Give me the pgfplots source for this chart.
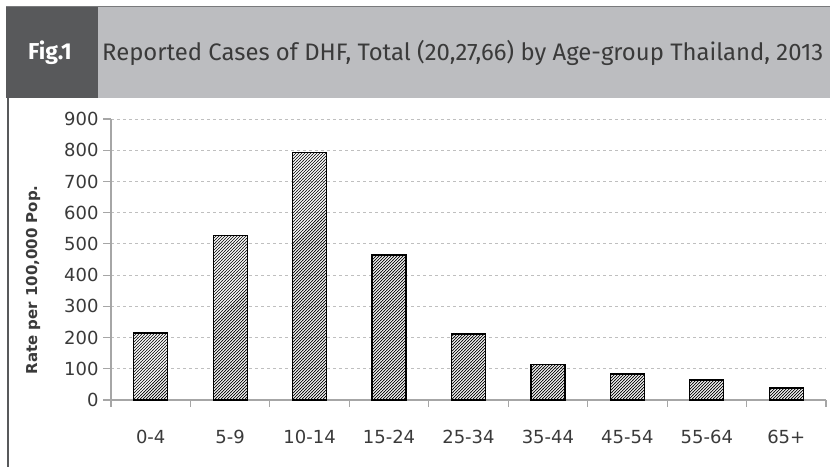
\documentclass[border=0pt]{standalone}
\usepackage{fontspec}
\setmainfont{DejaVu Sans}
\newfontfamily\fira{Fira Sans}
\usepackage{pgfplots}
\pgfplotsset{compat=1.18}
\usetikzlibrary{patterns}
\pgfdeclarepatternformonly{nelines}{\pgfqpoint{-1pt}{-1pt}}{\pgfqpoint{4pt}{4pt}}{\pgfqpoint{3pt}{3pt}}{%
  \pgfsetlinewidth{0.7pt}%
  \pgfpathmoveto{\pgfqpoint{-0.1pt}{-0.1pt}}%
  \pgfpathlineto{\pgfqpoint{3.1pt}{3.1pt}}%
  \pgfusepath{stroke}}
\definecolor{hdrlight}{HTML}{BCBDC0}
\definecolor{hdrdark}{HTML}{58595B}
\definecolor{gridc}{HTML}{BFBFBF}
\definecolor{axisc}{HTML}{A6A6A6}
\definecolor{txtc}{HTML}{3A3A3A}
\begin{document}
\begin{tikzpicture}[x=1pt,y=1pt]
\path[use as bounding box] (0,0) rectangle (830,467);
\fill[hdrlight] (98,369) rectangle (830,460);
\fill[hdrdark] (6,369) rectangle (98,460);
\draw[hdrdark!80, line width=1pt] (6,460.5) -- (830,460.5);
\node[text=white, font=\fira\bfseries\fontsize{23}{27}\selectfont] at (50,414) {Fig.1};
\node[anchor=west, text=txtc, inner sep=0pt] at (102,414) {\resizebox{721pt}{!}{\fira\fontsize{20}{24}\selectfont Reported Cases of DHF, Total (20,27,66) by Age-group Thailand, 2013}};
\draw[hdrdark, line width=2pt] (8,369) -- (8,0);
\begin{axis}[
  at={(111pt,67pt)}, anchor=south west,
  scale only axis, width=715pt, height=281pt,
  xmin=-0.5, xmax=8.5, ymin=0, ymax=900,
  axis lines*=left,
  axis line style={axisc, line width=1.2pt},
  tick align=outside,
  major tick length=8pt,
  ytick={0,100,...,900},
  ytick style={axisc, line width=1.2pt},
  ymajorgrids,
  major grid style={gridc, dashed, line width=0.8pt},
  xtick={0,...,8},
  xticklabels={0-4,5-9,10-14,15-24,25-34,35-44,45-54,55-64,65+},
  xtick style={draw=none},
  extra x ticks={-0.5,0.5,1.5,2.5,3.5,4.5,5.5,6.5,7.5,8.5},
  extra x tick labels={},
  extra x tick style={xtick style={draw=axisc, line width=1.2pt}, major tick length=7pt},
  /pgf/number format/assume math mode=true,
  tick label style={font=\fontsize{18}{20}\selectfont, text=txtc},
  xticklabel style={yshift=-19pt},
  yticklabel style={xshift=-1pt},
  ylabel={Rate per 100,000 Pop.},
  ylabel style={font=\bfseries\fontsize{15}{18}\selectfont, text=txtc, at={(axis description cs:-0.109,0.427)}, anchor=center},
]
\addplot[ybar, bar width=34pt, draw=black, line width=1.3pt, pattern=nelines]
  coordinates {(0,215) (1,526) (2,792) (3,464) (4,211) (5,114) (6,83) (7,64) (8,38)};
\end{axis}
\end{tikzpicture}
\end{document}
